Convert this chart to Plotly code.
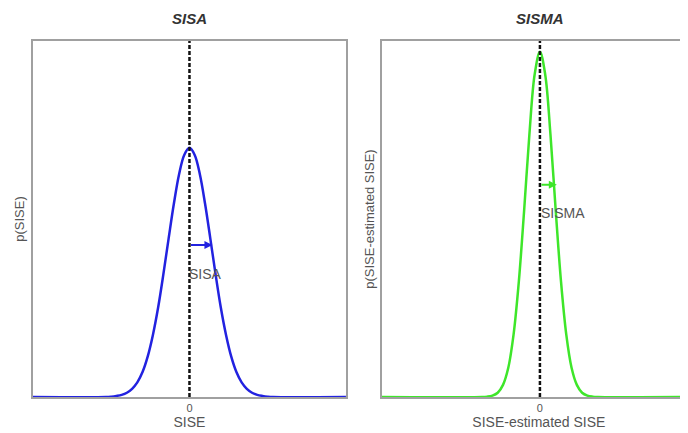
import plotly.graph_objects as go

# ---- data ----
x_sisa = [-3.0, -1.6, -1.5, -1.4, -1.3, -1.2, -1.1, -1.0, -0.9, -0.8, -0.7, -0.6, -0.5, -0.4, -0.3, -0.2, -0.1, 0.0,
          0.1, 0.2, 0.3, 0.4, 0.5, 0.6, 0.7, 0.8, 0.9, 1.0, 1.1, 1.2, 1.3, 1.4, 1.5, 1.6, 3.0]
y_sisa = [0.0, 0.0, 0.001, 0.003, 0.006, 0.012, 0.023, 0.041, 0.070, 0.114, 0.175, 0.252, 0.345, 0.445, 0.542, 0.625, 0.680, 0.700,
          0.680, 0.625, 0.542, 0.445, 0.345, 0.252, 0.175, 0.114, 0.070, 0.041, 0.023, 0.012, 0.006, 0.003, 0.001, 0.0, 0.0]

x_sisma = [-3.0, -1.1, -1.0, -0.9, -0.8, -0.7, -0.6, -0.5, -0.4, -0.3, -0.2, -0.1, 0.0,
           0.1, 0.2, 0.3, 0.4, 0.5, 0.6, 0.7, 0.8, 0.9, 1.0, 1.1, 2.96]
y_sisma = [0.0, 0.0, 0.001, 0.004, 0.012, 0.034, 0.082, 0.175, 0.324, 0.523, 0.737, 0.906, 0.970,
           0.906, 0.737, 0.523, 0.324, 0.175, 0.082, 0.034, 0.012, 0.004, 0.001, 0.0, 0.0]

arrow_sisa = {"y": 0.427, "x_end": 0.44, "label_x": 0.31, "label_y": 0.345}
arrow_sisma = {"y": 0.596, "x_end": 0.32, "label_x": 0.44, "label_y": 0.517}

titles = ["SISA", "SISMA"]
x_titles = ["SISE", "SISE-estimated SISE"]
y_titles = ["p(SISE)", "p(SISE-estimated SISE)"]

BLUE = "#2222e0"
GREEN = "#3ee62a"
GRAY = "#555555"
FONT = "Liberation Sans, Arial"

fig = go.Figure()
fig.add_trace(go.Scatter(x=x_sisa, y=y_sisa, mode="lines", line=dict(color=BLUE, width=2.5, shape="spline"),
                         xaxis="x", yaxis="y", cliponaxis=False, showlegend=False))
fig.add_trace(go.Scatter(x=x_sisma, y=y_sisma, mode="lines", line=dict(color=GREEN, width=2.5, shape="spline"),
                         xaxis="x2", yaxis="y2", cliponaxis=False, showlegend=False))

# dashed zero lines
for xr, yr in [("x", "y"), ("x2", "y2")]:
    fig.add_shape(type="line", xref=xr, yref=f"{yr} domain", x0=0, x1=0, y0=0, y1=1,
                  line=dict(color="#111111", width=2.5, dash="4px,2px"))

# arrows + labels
for (xr, yr, a, lab, col) in [("x", "y", arrow_sisa, "SISA", BLUE), ("x2", "y2", arrow_sisma, "SISMA", GREEN)]:
    fig.add_annotation(x=a["x_end"], y=a["y"], ax=0, ay=a["y"], xref=xr, yref=yr, axref=xr, ayref=yr,
                       showarrow=True, arrowhead=2, arrowsize=0.8, arrowwidth=2, arrowcolor=col, text="")
    fig.add_annotation(x=a["label_x"], y=a["label_y"], xref=xr, yref=yr, text=lab, showarrow=False,
                       font=dict(size=14, color=GRAY, family=FONT))

# titles
for xr, t in [("x", titles[0]), ("x2", titles[1])]:
    fig.add_annotation(x=0, y=1, xref=xr, yref="paper", yshift=12, yanchor="bottom", text=f"<b><i>{t}</i></b>",
                       showarrow=False, font=dict(size=15, color="#333333", family=FONT))

axis_common = dict(showline=True, linecolor="#a0a0a0", linewidth=1.5, showgrid=False, zeroline=False,
                   automargin=False, ticks="",
                   tickfont=dict(size=11, color=GRAY, family=FONT))
xtitle_font = dict(size=14, color=GRAY, family=FONT)
ytitle_font = dict(size=13, color=GRAY, family=FONT)

fig.update_layout(
    width=688, height=433,
    margin=dict(l=25, r=0, t=33, b=44),
    plot_bgcolor="white", paper_bgcolor="white",
    xaxis=dict(domain=[0, 0.472], range=[-3, 3], tickvals=[0], ticktext=["0"], mirror=True,
               title=dict(text=x_titles[0], standoff=0, font=xtitle_font), **axis_common),
    yaxis=dict(range=[0, 1], showticklabels=False, mirror=True,
               title=dict(text=y_titles[0], standoff=4, font=ytitle_font), **axis_common),
    xaxis2=dict(domain=[0.526, 1], range=[-3, 2.96], tickvals=[0], ticktext=["0"], mirror=True, anchor="y2",
                title=dict(text=x_titles[1], standoff=0, font=xtitle_font), **axis_common),
    yaxis2=dict(range=[0, 1], showticklabels=False, mirror=False, anchor="x2",
                title=dict(text=y_titles[1], standoff=2, font=ytitle_font), **axis_common),
)

fig.write_html("out.html")
